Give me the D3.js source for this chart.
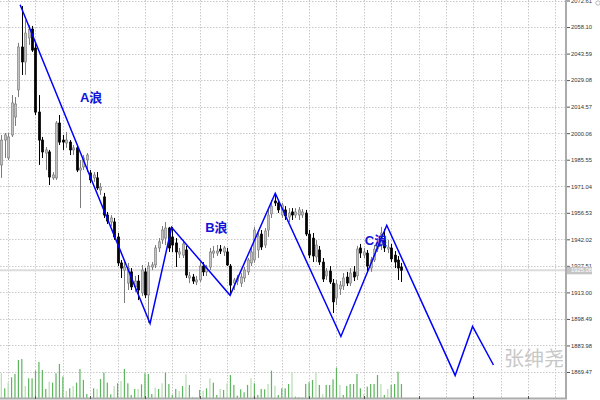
<!DOCTYPE html>
<html><head><meta charset="utf-8">
<script src="https://cdn.jsdelivr.net/npm/d3@7"></script>
<style>html,body{margin:0;padding:0;background:#fff;} svg{display:block}</style>
</head><body><svg id="c" width="600" height="400"></svg>
<script>
// ---- data ----
const open=[1982.7,1996.3,1986.5,1999.1,2008.9,2023.7,2047.2,2039.0,2052.1,2057.0,
2046.6,2011.6,1996.3,1989.2,1989.8,1975.6,1975.6,2005.6,1996.3,1994.7,
1995.2,1990.9,1992.0,1979.9,1981.6,1985.4,1978.3,1975.6,1975.6,1969.0,
1965.2,1955.3,1951.5,1951.5,1943.3,1929.1,1925.2,1918.1,1924.2,1916.0,
1919.2,1912.7,1924.2,1911.6,1926.9,1928.0,1937.3,1941.7,1942.7,1948.2,
1943.3,1940.0,1934.0,1933.4,1936.2,1920.9,1921.4,1918.7,1919.8,1927.4,
1924.2,1926.9,1934.5,1934.5,1936.7,1935.1,1935.1,1927.4,1918.1,1919.2,
1918.1,1920.9,1924.2,1929.1,1930.7,1936.2,1944.9,1938.9,1947.1,1955.9,
1963.0,1961.9,1955.3,1958.1,1954.2,1957.0,1955.3,1955.3,1955.3,1956.4,
1944.9,1942.7,1932.4,1936.2,1929.6,1922.0,1924.7,1918.1,1909.9,1914.9,
1916.5,1921.4,1918.1,1924.2,1922.0,1937.3,1933.4,1934.5,1926.3,1930.7,
1936.7,1938.9,1941.7,1936.7,1937.3,1933.4,1930.7,1926.9];
const high=[1999.1,2000.2,2000.2,2020.9,2019.8,2049.4,2069.6,2061.9,2059.2,2058.7,
2049.4,2020.9,1998.0,1992.5,1990.9,1978.8,2006.7,2010.0,1999.1,2000.7,
1996.3,1993.6,1993.0,1985.4,1988.1,1989.2,1979.9,1978.8,1978.8,1972.8,
1967.4,1957.0,1955.3,1953.7,1945.5,1930.7,1929.6,1929.1,1926.3,1922.0,
1922.5,1928.0,1926.3,1929.6,1929.6,1938.9,1942.7,1949.3,1951.5,1948.8,
1948.8,1942.7,1937.3,1941.7,1938.4,1924.2,1923.1,1922.0,1929.6,1929.6,
1928.0,1937.3,1938.4,1938.9,1938.9,1938.4,1937.3,1928.5,1920.9,1922.5,
1923.6,1926.9,1931.8,1937.3,1948.8,1945.5,1947.1,1948.2,1958.1,1963.5,
1966.3,1963.5,1961.9,1960.2,1959.1,1959.1,1959.1,1959.7,1958.6,1958.1,
1947.1,1945.5,1941.7,1938.4,1931.8,1926.3,1927.4,1920.3,1919.8,1919.2,
1923.6,1924.2,1926.3,1927.4,1938.4,1939.5,1937.3,1936.2,1932.4,1938.9,
1942.7,1948.8,1947.7,1941.7,1939.5,1935.6,1932.9,1929.1];
const low=[1975.6,1986.5,1985.4,1998.0,2004.0,2019.8,2031.9,2031.9,2048.3,2044.5,
2010.0,1982.7,1986.5,1979.9,1971.7,1974.5,1974.5,1993.6,1990.9,1992.0,
1988.1,1988.1,1978.8,1959.1,1979.9,1978.8,1972.8,1973.4,1969.0,1966.3,
1953.7,1950.4,1949.3,1941.7,1927.4,1920.9,1907.2,1914.3,1914.3,1913.2,
1908.8,1911.0,1909.9,1896.3,1925.2,1926.3,1935.1,1939.5,1938.9,1935.1,
1935.1,1926.9,1931.8,1931.8,1920.9,1918.1,1917.6,1917.0,1918.7,1922.0,
1922.0,1925.2,1931.8,1932.9,1934.0,1932.9,1927.4,1912.1,1914.3,1917.0,
1916.0,1918.7,1922.5,1927.4,1929.1,1931.8,1936.2,1937.3,1943.3,1953.7,
1960.2,1956.4,1953.7,1952.6,1951.5,1952.6,1953.7,1952.6,1953.7,1943.8,
1931.8,1929.6,1929.6,1928.0,1918.7,1919.8,1917.6,1901.7,1906.1,1911.6,
1914.3,1916.5,1916.5,1919.2,1919.8,1931.8,1931.8,1924.2,1924.2,1929.6,
1935.1,1936.2,1935.1,1934.5,1929.6,1926.3,1919.8,1918.7];
const close=[1996.3,1999.1,1998.0,2016.6,2016.0,2047.2,2039.0,2054.8,2057.0,2045.5,
2011.6,1996.3,1989.8,1990.9,1976.1,1977.2,2005.6,1995.2,1995.2,1996.3,
1990.9,1992.0,1979.9,1981.0,1986.5,1988.1,1974.5,1977.2,1970.1,1970.6,
1955.3,1952.0,1953.7,1943.3,1929.1,1926.3,1926.9,1926.3,1916.0,1919.2,
1914.3,1925.2,1911.6,1927.4,1928.0,1937.3,1940.6,1947.1,1948.2,1937.3,
1938.9,1935.1,1935.1,1939.5,1922.5,1922.0,1919.2,1919.8,1927.4,1924.2,
1926.3,1935.1,1935.6,1935.6,1935.6,1937.3,1928.0,1917.0,1919.8,1920.9,
1921.4,1925.2,1930.7,1935.1,1947.1,1943.8,1937.8,1946.6,1955.3,1960.2,
1961.9,1958.1,1960.8,1954.8,1956.4,1955.3,1957.0,1958.1,1957.0,1944.9,
1933.4,1932.9,1938.9,1929.6,1920.3,1924.7,1918.7,1907.8,1917.6,1917.0,
1920.9,1918.1,1923.6,1921.4,1936.7,1934.5,1935.1,1927.4,1930.7,1936.7,
1940.0,1945.5,1937.3,1937.8,1931.3,1929.6,1926.3,1925.08];
const volume=[75,30,47,63,73,115,118,37,60,60,
83,109,85,28,50,47,75,103,65,22,
30,37,47,88,55,13,3,30,28,58,
77,47,12,37,45,52,88,45,10,28,
28,42,75,73,13,32,28,45,77,43,
10,28,22,37,72,40,3,2,25,23,
30,60,47,10,28,25,45,70,40,8,
27,18,40,60,45,10,28,27,43,83,
38,10,30,30,43,78,5,3,2,43,
48,55,78,40,13,40,40,57,92,40,
10,37,43,43,73,30,13,35,43,43,
70,43,10,28,40,43,80,43];
const volUp=[0,1,0,1,1,1,1,0,1,1,
1,1,1,1,0,1,1,1,1,0,
1,0,1,1,1,1,0,1,0,1,
1,1,1,0,1,0,1,1,1,1,
0,1,1,1,1,0,1,0,1,1,
1,1,0,1,0,1,1,1,1,0,
1,0,1,1,0,1,0,1,1,1,
1,1,1,0,1,1,1,1,0,1,
0,1,1,1,1,0,1,1,1,1,
1,1,0,1,0,1,1,1,1,0,
1,1,1,1,1,1,0,1,1,1,
1,0,1,0,1,1,1,1];
const waveIdx=[5.5,43.5,49.8,66.9,80.1,99.3,112.7,132.7,137.8,143.9];
const wavePrice=[2070.3,1896.0,1948.6,1911.4,1967.2,1888.9,1949.7,1867.6,1894.4,1873.3];
const waveLabels=["A浪","B浪","C浪"];
const labelIdx=[23.0,59.6,106.3];
const labelPrice=[2017.1,1946.0,1938.9];
const priceTicks=[1869.47,1883.98,1898.49,1913.00,1927.51,1942.02,1956.53,1971.04,1985.55,2000.06,2014.57,2029.08,2043.59,2058.10,2072.61];
const watermark="张绅尧";

// ---- drawing ----
const svg=d3.select("#c");
const plotR=566, plotB=398;
const x=d3.scaleLinear().domain([0,165]).range([1.3,1.3+165*3.42]);
const y=d3.scaleLinear().domain([1869.47,2072.61]).range([372,0.5]);
const v=d3.scaleLinear().domain([0,120]).range([398.3,358.3]);
const n=close.length;

svg.append("rect").attr("width",600).attr("height",400).attr("fill","#fff");

// grid
const grid=svg.append("g").attr("stroke","#c8c8c8").attr("stroke-width",1).attr("stroke-dasharray","1.5,1.5");
grid.selectAll("line.h").data(priceTicks).join("line").attr("class","h")
  .attr("x1",0).attr("x2",plotR).attr("y1",d=>Math.round(y(d))+0.5).attr("y2",d=>Math.round(y(d))+0.5);
grid.selectAll("line.v").data(d3.range(2,165,8)).join("line").attr("class","v")
  .attr("x1",d=>Math.round(x(d))+0.5).attr("x2",d=>Math.round(x(d))+0.5).attr("y1",0).attr("y2",plotB);

// bid line
const last=close[n-1];
svg.append("line").attr("x1",0).attr("x2",plotR).attr("y1",y(last)).attr("y2",y(last))
  .attr("stroke","#dcdcdc").attr("stroke-width",2);

// volume
svg.append("g").selectAll("rect").data(volume).join("rect")
  .attr("x",(d,i)=>x(i)-0.6).attr("width",1.2)
  .attr("y",d=>v(d)).attr("height",d=>v(0)-v(d))
  .attr("fill",(d,i)=>volUp[i]?"#5db55d":"#b8dcb2");

// candles
const cg=svg.append("g");
const idx=d3.range(n);
cg.selectAll("line").data(idx).join("line")
  .attr("x1",i=>Math.round(x(i))+0.5).attr("x2",i=>Math.round(x(i))+0.5)
  .attr("y1",i=>y(high[i])).attr("y2",i=>y(low[i]))
  .attr("stroke",i=>close[i]>=open[i]?"#7c7c7c":"#000").attr("stroke-width",1);
cg.selectAll("rect").data(idx).join("rect")
  .attr("x",i=>Math.round(x(i))+0.5-1.2).attr("width",2.4)
  .attr("y",i=>y(Math.max(open[i],close[i])))
  .attr("height",i=>Math.max(0.8,Math.abs(y(open[i])-y(close[i]))))
  .attr("fill",i=>close[i]>=open[i]?"#c2c2c2":"#000")
  .attr("stroke",i=>close[i]>=open[i]?"#7c7c7c":"#000").attr("stroke-width",0.6);

// wave line
const pts=waveIdx.map((d,i)=>[d,wavePrice[i]]);
svg.append("path").attr("d",d3.line().x(d=>x(d[0])).y(d=>y(d[1]))(pts))
  .attr("fill","none").attr("stroke","#0000ff").attr("stroke-width",1.5);

// wave labels
svg.append("g").selectAll("text").data(waveLabels).join("text")
  .attr("x",(d,i)=>x(labelIdx[i])).attr("y",(d,i)=>y(labelPrice[i]))
  .attr("font-family","'Liberation Sans','Noto Sans CJK SC',sans-serif")
  .attr("font-weight","bold").attr("font-size",13).attr("fill","#1212d8")
  .text(d=>d);

// watermark
svg.append("text").attr("x",504).attr("y",366).attr("font-family","'Noto Sans CJK SC',sans-serif")
  .attr("font-size",20).attr("fill","#c8c8c8").text(watermark);

// axes frame
svg.append("line").attr("x1",plotR).attr("x2",plotR).attr("y1",0).attr("y2",plotB+1)
  .attr("stroke","#ababab").attr("stroke-width",2);
svg.append("line").attr("x1",0).attr("x2",plotR+1).attr("y1",plotB+0.5).attr("y2",plotB+0.5)
  .attr("stroke","#ababab").attr("stroke-width",2);
svg.append("g").selectAll("line").data(d3.range(10,165,16)).join("line")
  .attr("x1",d=>Math.round(x(d))+0.5).attr("x2",d=>Math.round(x(d))+0.5)
  .attr("y1",plotB-2).attr("y2",plotB+1).attr("stroke","#555");

const ax=svg.append("g").attr("transform",`translate(${plotR+1},0)`)
  .call(d3.axisRight(y).tickValues(priceTicks).tickSize(3).tickPadding(1).tickFormat(d3.format(".2f")));
ax.select(".domain").remove();
ax.selectAll(".tick line").attr("stroke","#555");
ax.selectAll(".tick text").attr("font-family","'Liberation Sans',Arial,sans-serif")
  .attr("font-size",5.8).attr("fill","#333");

// current price tag
const tag=svg.append("g").attr("transform",`translate(${plotR+1},${y(last)})`);
tag.append("rect").attr("x",0).attr("y",-3.5).attr("width",25).attr("height",7.5).attr("fill","#c4c4c4");
tag.append("text").attr("x",4).attr("y",0.3).attr("dy","0.32em")
  .attr("font-family","'Liberation Sans',Arial,sans-serif").attr("font-size",5.8).attr("fill","#fff")
  .text(d3.format(".2f")(last));

// corner mark
svg.append("circle").attr("cx",598).attr("cy",3).attr("r",2.2).attr("fill","none").attr("stroke","#aaa").attr("stroke-width",0.8);
</script></body></html>
